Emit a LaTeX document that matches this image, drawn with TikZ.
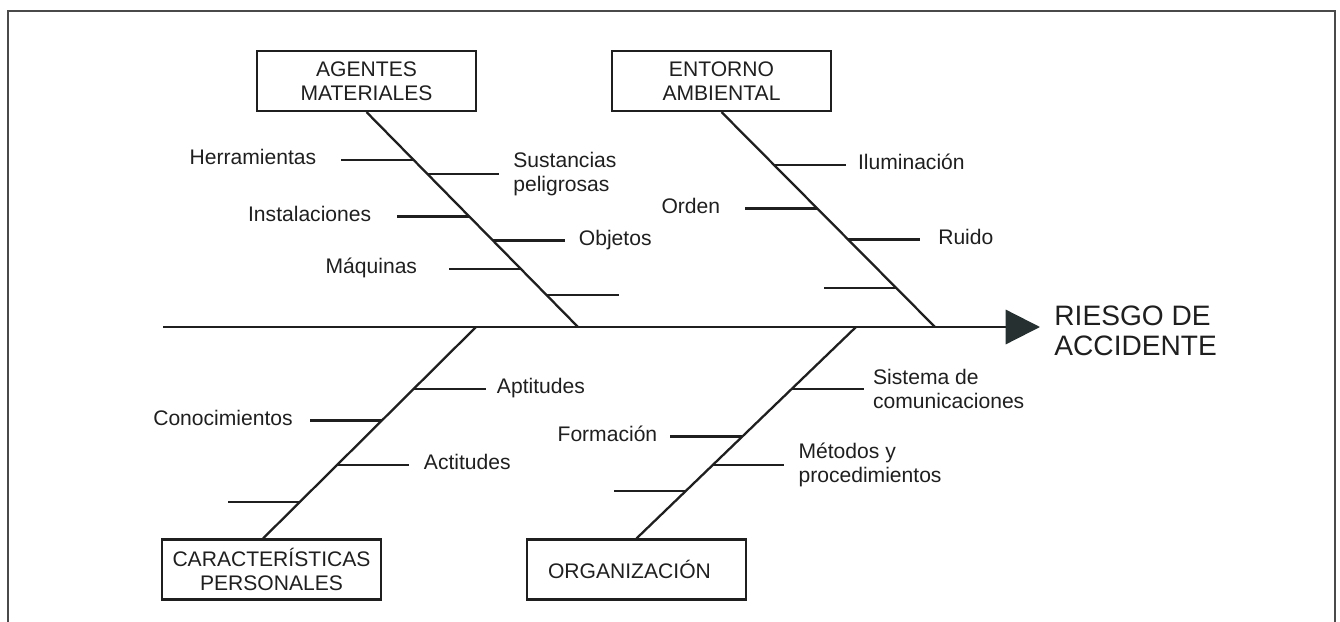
\documentclass[tikz,border=0pt]{standalone}
\usepackage{fontspec}
\setmainfont{Liberation Sans}
\usetikzlibrary{arrows.meta,positioning,calc}
\definecolor{ink}{HTML}{1F1F1F}
\definecolor{headfill}{HTML}{263030}
\definecolor{framegray}{HTML}{4A4A4A}
\newcommand{\ribL}[5][mid east]{\draw[rib] (#2) -- ++(-72,0) node[lbl,anchor=#1,xshift=-#5] (#4) {#3};}
\newcommand{\ribR}[5][mid west]{\draw[rib] (#2) -- ++(72,0) node[lbl,anchor=#1,xshift=#5] (#4) {#3};}

\begin{document}
\begin{tikzpicture}[x=0.02cm,y=-0.02cm,
  box/.style={draw=ink,line width=1.2pt,minimum width=4.38cm,minimum height=1.2cm,
    inner sep=0pt,align=center,text=ink,font=\fontsize{12}{13.6}\selectfont},
  bone/.style={ink,line width=1.3pt},
  rib/.style={ink,line width=1.3pt},
  lbl/.style={inner sep=0pt,align=left,text=ink,font=\fontsize{12}{13.6}\selectfont}]
  \useasboundingbox (0,0) rectangle (1340,622);
  \draw[framegray,line width=0.9pt] (8,622) |- (1335,11) -- (1335,622);

  % espina y efecto
  \coordinate (tail) at (163,327);
  \node[anchor=west,inner xsep=8pt,inner ysep=0pt,align=left,text=ink,
    font=\fontsize{16}{17}\selectfont] (goal) at (1040,331) {RIESGO DE\\ACCIDENTE};
  \draw[bone,-{Triangle[length=19.5pt,width=19.5pt,color=headfill]}] (tail) -- (tail -| goal.west);

  % causas
  \node[box] (agentes) at (366.5,81) {AGENTES\\MATERIALES};
  \node[box] (entorno) at (721.5,81) {ENTORNO\\AMBIENTAL};
  \node[box] (caract) at (271.5,569.5) {CARACTERÍSTICAS\\PERSONALES};
  \node[box] (organ) at (636.5,569.5) {ORGANIZACIÓN\hspace*{8pt}};

  \coordinate (a1) at (578,327);
  \coordinate (a2) at (935,327);
  \coordinate (b1) at (476,327);
  \coordinate (b2) at (856,327);
  \coordinate (cfoot) at ([xshift=-4.8pt]caract.north);

  \draw[bone] (agentes.south) -- (a1);
  \draw[bone] (entorno.south) -- (a2);
  \draw[bone] (cfoot) -- (b1);
  \draw[bone] (organ.north) -- (b2);

  % agentes materiales
  \coordinate (am1) at ($(agentes.south)!.222!(a1)$);
  \coordinate (am2) at ($(agentes.south)!.287!(a1)$);
  \coordinate (am3) at ($(agentes.south)!.486!(a1)$);
  \coordinate (am4) at ($(agentes.south)!.597!(a1)$);
  \coordinate (am5) at ($(agentes.south)!.731!(a1)$);
  \coordinate (am6) at ($(agentes.south)!.852!(a1)$);
  \ribL{am1}{Herramientas}{herr}{13.7pt}
  \ribR[west]{am2}{Sustancias\\peligrosas}{sust}{7.4pt}
  \ribL{am3}{Instalaciones}{inst}{14.2pt}
  \ribR{am4}{Objetos}{obj}{7.4pt}
  \ribL{am5}{Máquinas}{maq}{17.6pt}
  \draw[rib] (am6) -- ++(72,0);

  % entorno ambiental
  \coordinate (ea1) at ($(entorno.south)!.245!(a2)$);
  \coordinate (ea2) at ($(entorno.south)!.449!(a2)$);
  \coordinate (ea3) at ($(entorno.south)!.593!(a2)$);
  \coordinate (ea4) at ($(entorno.south)!.819!(a2)$);
  \ribR{ea1}{Iluminación}{ilum}{6.3pt}
  \ribL{ea2}{Orden}{orden}{13.7pt}
  \ribR{ea3}{Ruido}{ruido}{9.7pt}
  \draw[rib] (ea4) -- ++(-72,0);

  % caracteristicas personales
  \coordinate (cp1) at ($(cfoot)!.708!(b1)$);
  \coordinate (cp2) at ($(cfoot)!.558!(b1)$);
  \coordinate (cp3) at ($(cfoot)!.346!(b1)$);
  \coordinate (cp4) at ($(cfoot)!.172!(b1)$);
  \ribR{cp1}{Aptitudes}{apt}{5.7pt}
  \ribL{cp2}{Conocimientos}{con}{9.1pt}
  \ribR{cp3}{Actitudes}{act}{8pt}
  \draw[rib] (cp4) -- ++(-72,0);

  % organizacion
  \coordinate (og1) at ($(organ.north)!.708!(b2)$);
  \coordinate (og2) at ($(organ.north)!.482!(b2)$);
  \coordinate (og3) at ($(organ.north)!.346!(b2)$);
  \coordinate (og4) at ($(organ.north)!.224!(b2)$);
  \ribR[west]{og1}{Sistema de\\comunicaciones}{sist}{4.6pt}
  \ribL{og2}{Formación}{form}{6.8pt}
  \ribR[west]{og3}{Métodos y\\procedimientos}{met}{7.4pt}
  \draw[rib] (og4) -- ++(-72,0);
\end{tikzpicture}
\end{document}
